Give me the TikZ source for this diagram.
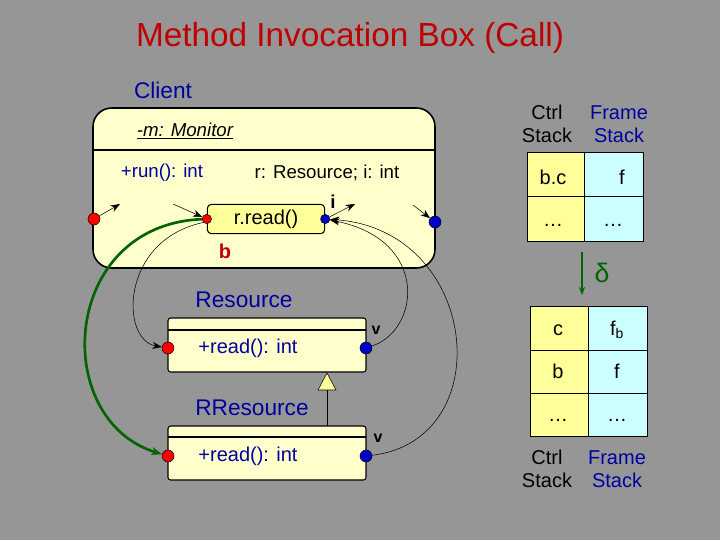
\documentclass[tikz,border=0pt]{standalone}
\usepackage{fontspec}
\setmainfont{Liberation Sans}
\usetikzlibrary{arrows.meta}
\definecolor{bg}{RGB}{150,150,150}
\definecolor{cream}{RGB}{255,255,204}
\definecolor{yel}{RGB}{255,255,153}
\definecolor{cyanl}{RGB}{204,255,255}
\definecolor{tblue}{RGB}{0,0,160}
\definecolor{tred}{RGB}{192,0,0}
\definecolor{dgreen}{RGB}{0,100,0}
\begin{document}
\begin{tikzpicture}[x=0.75pt,y=-0.75pt,
  txt/.style={font=\fontsize{15}{17}\selectfont,inner sep=0pt},
  rdot/.style={circle,fill=red,draw=black,inner sep=0pt,minimum size=9pt},
  bdot/.style={circle,fill=blue!80!black,draw=black,inner sep=0pt,minimum size=9pt},
  con/.style={-{Stealth[length=7pt]},thin}]
\fill[bg] (0,0) rectangle (720,540);
\useasboundingbox (0,0) rectangle (720,540);
\node[txt,font=\fontsize{25}{28}\selectfont,text=tred] (title) at (350,38) {Method Invocation Box (Call)};
\node[txt,text=tblue,font=\fontsize{17}{19}\selectfont] (client) at (163,90) {Client};
% Monitor box
\draw[very thick,fill=cream,rounded corners=14] (93,108) rectangle (435,268);
\draw[very thick] (93,150) -- (435,150);
\node[txt,font=\itshape\fontsize{14}{16}\selectfont] (mon) at (185,131) {\underline{-m: Monitor}};
\node[txt,text=tblue,font=\fontsize{14}{16}\selectfont] (run) at (162,173) {+run(): int};
\node[txt,font=\fontsize{14}{16}\selectfont] (ri) at (327,173) {r: Resource; i: int};
\node[draw=black,thick,fill=yel,rounded corners=3,minimum width=88pt,minimum height=22pt,txt] (rr) at (266,219) {r.read()};
\node[rdot,minimum size=7pt] (rrl) at (rr.west) {};
\node[bdot,minimum size=7pt] (rrr) at (rr.east) {};
\node[rdot] (ml) at (94,219) {};
\node[bdot] (mr) at (435,222) {};
\coordinate (a1) at (120,204);
\coordinate (a2) at (173,204);
\coordinate (a3) at (355,204);
\coordinate (a4) at (413,205);
\draw[con] (ml) -- (a1);
\draw[con] (a2) -- (rrl);
\draw[con] (rrr) -- (a3);
\draw[con] (a4) -- (mr);
\node[txt,font=\bfseries\fontsize{14}{16}\selectfont] (ilab) at (333,202) {i};
\node[txt,text=tred,font=\bfseries\fontsize{15}{17}\selectfont] (b) at (225,251) {b};
% Resource
\node[txt,text=tblue,font=\fontsize{17}{19}\selectfont] (resl) at (244,300) {Resource};
\draw[thick,fill=cream,rounded corners=2] (168,318) rectangle (366,372);
\draw[thick] (168,330) -- (366,330);
\node[txt,text=tblue] (rread) at (248,348) {+read(): int};
\node[rdot] (r1) at (168,348) {};
\node[bdot] (b1) at (366,348) {};
\node[txt,font=\bfseries\fontsize{12}{14}\selectfont] (v1) at (376,330) {v};
% RResource
\node[txt,text=tblue,font=\fontsize{17}{19}\selectfont] (rresl) at (252,408) {RResource};
\draw[thick,fill=cream,rounded corners=2] (168,426) rectangle (366,480);
\draw[thick] (168,437) -- (366,437);
\node[txt,text=tblue] (rrread) at (248,456) {+read(): int};
\node[rdot] (r2) at (168,456) {};
\node[bdot] (b2) at (366,456) {};
\node[txt,font=\bfseries\fontsize{12}{14}\selectfont] (v2) at (378,438) {v};
% inheritance
\draw (327,426) -- (327,390);
\draw[fill=yel] (327,373) -- (336,390) -- (318,390) -- cycle;
% curves
\draw[con] (rrl.south west) .. controls (120,240) and (120,340) .. (r1);
\draw[con] (b1) .. controls (420,330) and (430,240) .. (rrr);
\draw[con] (b2) .. controls (500,440) and (480,230) .. (rrr);
\draw[-{Stealth[length=8pt]},line width=2pt,dgreen] (rrl) .. controls (60,225) and (50,420) .. (r2);
% stacks
\fill[yel] (527,152) rectangle (584,241);
\fill[cyanl] (584,152) rectangle (643,241);
\draw (527,152) rectangle (643,241) (584,152) -- (584,241) (527,196) -- (643,196);
\node[txt] (t1a) at (553,177) {b.c};
\node[txt] (t1b) at (622,177) {f};
\node[txt] (t1c) at (553,225) {…};
\node[txt] (t1d) at (613,225) {…};
\fill[yel] (530,306) rectangle (588,436);
\fill[cyanl] (588,306) rectangle (647,436);
\draw (530,306) rectangle (647,436) (588,306) -- (588,436) (530,350) -- (647,350) (530,393) -- (647,393);
\node[txt] (t2a) at (558,330) {c};
\node[txt] (t2b) at (617,330) {f\textsubscript{b}};
\node[txt] (t2c) at (558,371) {b};
\node[txt] (t2d) at (617,371) {f};
\node[txt] (t2e) at (558,420) {…};
\node[txt] (t2f) at (617,420) {…};
\coordinate (d1) at (582,252);
\coordinate (d2) at (582,295);
\draw[-{Stealth[length=6pt]},line width=1.5pt,dgreen] (d1) -- (d2);
\node[txt,text=dgreen,font=\fontsize{20}{22}\selectfont] (delta) at (602,273) {δ};
\node[txt,align=center] (cs1) at (547,124) {Ctrl\\Stack};
\node[txt,align=center,text=tblue] (fs1) at (619,124) {Frame\\Stack};
\node[txt,align=center] (cs2) at (547,469) {Ctrl\\Stack};
\node[txt,align=center,text=tblue] (fs2) at (617,469) {Frame\\Stack};
\end{tikzpicture}
\end{document}
